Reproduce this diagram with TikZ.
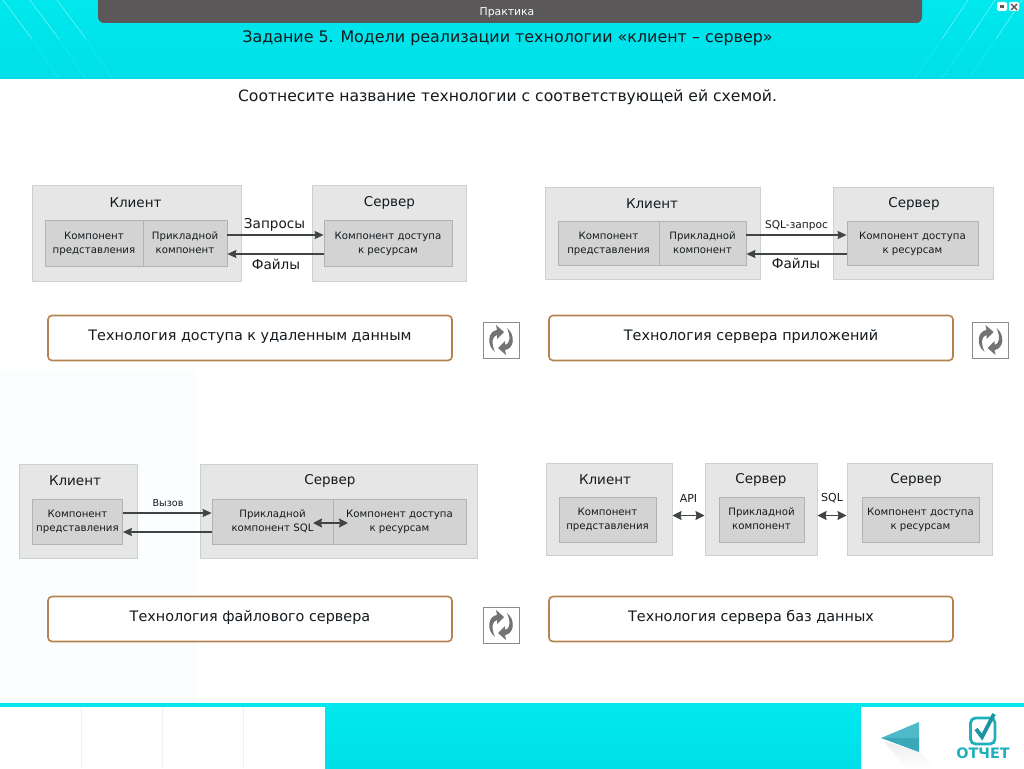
\documentclass[tikz,border=0pt]{standalone}
\usepackage{fontspec}
\setmainfont{DejaVu Sans}
\usetikzlibrary{arrows.meta,positioning,calc}
\definecolor{techCyan}{HTML}{00E8EE}
\definecolor{techCyanLow}{HTML}{00DFE8}
\definecolor{techTint}{HTML}{FBFEFF}
\definecolor{techBar}{HTML}{5A5858}
\definecolor{techOuter}{HTML}{E6E6E6}
\definecolor{techOuterEdge}{HTML}{CDD0D0}
\definecolor{techInner}{HTML}{D3D3D3}
\definecolor{techInnerEdge}{HTML}{B0B3B3}
\definecolor{techLine}{HTML}{404444}
\definecolor{techCard}{HTML}{B5834F}
\definecolor{techText}{HTML}{141A1E}
\definecolor{techTeal}{HTML}{1FB0BC}
\definecolor{techBack}{HTML}{4FB9C9}
\definecolor{techBackLow}{HTML}{3AA8B8}
\tikzset{
  outerbox/.style={draw=techOuterEdge,line width=1pt,fill=techOuter,inner sep=0pt,minimum height=#1},
  outerbox/.default=96pt,
  innerbox/.style={draw=techInnerEdge,line width=0.8pt,fill=techInner,inner sep=0pt,align=center,
              text=techText,font=\fontsize{10.2}{14}\selectfont,text height=22pt,text depth=2pt,
              minimum height=#1},
  innerbox/.default=46pt,
  boxtitle/.style={font=\fontsize{13.5}{16}\selectfont,text=techText,inner sep=0pt},
  flowlbl/.style={font=\fontsize{#1}{14}\selectfont,text=techText,inner sep=0pt},
  flowlbl/.default=10.5,
  flow/.style={-{Stealth[length=9pt,width=8pt,inset=1pt]},draw=techLine,line width=1.3pt},
  twoflow/.style={{Stealth[length=9pt,width=9pt,inset=1pt]}-{Stealth[length=9pt,width=9pt,inset=1pt]},
              draw=techLine,line width=1.6pt},
  cardbox/.style={draw=techCard,line width=1.6pt,fill=white,rounded corners=4pt,minimum width=404pt,
              minimum height=45pt,inner sep=0pt,text height=12pt,text depth=8pt,text=techText,
              font=\fontsize{14.4}{16}\selectfont},
  iconbox/.style={draw=black!45,line width=0.8pt,fill=white,minimum size=36pt,inner sep=0pt},
  refresh/.pic={
    \foreach \a in {0,180}
      \fill[black!55,rotate=\a] (-6,12) .. controls (-15,5) and (-13,-9) .. (-4,-10) -- (-5,-15)
        -- (3,-8) -- (-4,-1) -- (-4,-5) .. controls (-9,-4) and (-10,3) .. cycle;
  },
}
\begin{document}
\begin{tikzpicture}[x=1pt,y=-1pt]
  \useasboundingbox (0,0) rectangle (1024,768);
  \fill[white] (0,0) rectangle (1024,768);
  \fill[techTint] (0,370) rectangle (197,703);

  % Head of the page.
  \shade[top color=techCyan,bottom color=techCyanLow] (0,0) rectangle (1024,78);
  \foreach \p in {0,27,54} {
    \draw[white,opacity=0.35,line width=0.8pt] (3+\p,0) -- (32+\p,39);
    \draw[white,opacity=0.1,line width=0.8pt] (32+\p,39) -- (58+\p,78);
    \draw[white,opacity=0.35,line width=0.8pt] (968+\p,0) -- (942+\p,39);
    \draw[white,opacity=0.1,line width=0.8pt] (942+\p,39) -- (915+\p,78);
  }
  \fill[techBar] (98,0) -- (922,0) -- (922,17) arc[start angle=0,end angle=90,radius=6] -- (104,23)
    arc[start angle=90,end angle=180,radius=6] -- cycle;
  \node[font=\fontsize{10.8}{12}\selectfont,text=white,inner sep=0pt] (barname) at (507,12.5) {Практика};
  \node[font=\fontsize{15.9}{18}\selectfont,text=techText,inner sep=0pt] (taskname) at (507.5,38.5)
    {Задание 5. Модели реализации технологии «клиент – сервер»};
  \node[font=\fontsize{15.6}{18}\selectfont,text=techText,inner sep=0pt] (tasktext) at (507.5,97)
    {Соотнесите название технологии с соответствующей ей схемой.};
  \fill[white,rounded corners=2pt] (997,2) rectangle (1007,11);
  \fill[techBar] (1000,5) rectangle (1004,8);
  \fill[white,rounded corners=2pt] (1009,2) rectangle (1019,11);
  \draw[techBar,line width=1.4pt] (1011,4) -- (1017,10) (1017,4) -- (1011,10);

  % Remote data access.
  \node[outerbox,minimum width=209pt] (cliA) at (136.5,233) {};
  \node[outerbox,minimum width=154pt] (srvA) at (389,233) {};
  \node[boxtitle] (cliAname) at (135.5,202.5) {Клиент};
  \node[boxtitle] (srvAname) at (389.5,202.5) {Сервер};
  \node[innerbox,minimum width=98pt] (preA) at (94,243) {Компонент\\представления};
  \node[innerbox,minimum width=84pt] (appA) at (185,243) {Прикладной\\компонент};
  \node[innerbox,minimum width=128pt] (resA) at (388,243) {Компонент доступа\\к ресурсам};
  \draw[flow] ([yshift=8pt]appA.east) -- ([yshift=8pt]resA.west);
  \draw[flow] ([yshift=-11pt]resA.west) -- ([yshift=-11pt]appA.east);
  \node[flowlbl=13.6] (reqA) at (274.5,225) {Запросы};
  \node[flowlbl=13.6] (retA) at (276,264.5) {Файлы};
  \node[cardbox] (cardA) at (250,338) {Технология доступа к удаленным данным};
  \node[iconbox] (iconA) at (501,340) {};
  \pic at (iconA) {refresh};

  % Application server.
  \node[outerbox=92pt,minimum width=215pt] (cliB) at (652.5,233) {};
  \node[outerbox=92pt,minimum width=160pt] (srvB) at (913,233) {};
  \node[boxtitle] (cliBname) at (652,204) {Клиент};
  \node[boxtitle] (srvBname) at (914,204) {Сервер};
  \node[innerbox=44pt,minimum width=101pt] (preB) at (608.5,243) {Компонент\\представления};
  \node[innerbox=44pt,minimum width=87pt] (appB) at (702.5,243) {Прикладной\\компонент};
  \node[innerbox=44pt,minimum width=131pt] (resB) at (912.5,243) {Компонент доступа\\к ресурсам};
  \draw[flow] ([yshift=8pt]appB.east) -- ([yshift=8pt]resB.west);
  \draw[flow] ([yshift=-11pt]resB.west) -- ([yshift=-11pt]appB.east);
  \node[flowlbl=10.6] (reqB) at (796.5,226) {SQL-запрос};
  \node[flowlbl=13.6] (retB) at (796,263.5) {Файлы};
  \node[cardbox] (cardB) at (751,338) {Технология сервера приложений};
  \node[iconbox] (iconB) at (990.5,340) {};
  \pic at (iconB) {refresh};

  % File server.
  \node[outerbox=94pt,minimum width=118pt] (cliC) at (78.5,511) {};
  \node[outerbox=94pt,minimum width=277pt] (srvC) at (338.5,511) {};
  \node[boxtitle] (cliCname) at (75,481) {Клиент};
  \node[boxtitle] (srvCname) at (330,481) {Сервер};
  \node[innerbox=45pt,minimum width=90pt] (preC) at (77.5,521.5) {Компонент\\представления};
  \node[innerbox=45pt,minimum width=121pt] (appC) at (272.5,521.5) {Прикладной\\компонент SQL};
  \node[innerbox=45pt,minimum width=133pt] (resC) at (399.5,521.5) {Компонент доступа\\к ресурсам};
  \draw[flow] ([yshift=8.5pt]preC.east) -- ([yshift=8.5pt]appC.west);
  \draw[flow] ([yshift=-10.5pt]appC.west) -- ([yshift=-10.5pt]preC.east);
  \coordinate (sqlC) at (313,523);
  \coordinate (dbC) at (348,523);
  \draw[twoflow] (sqlC) -- (dbC);
  \node[flowlbl=9.6] (reqC) at (168,503.5) {Вызов};
  \node[cardbox] (cardC) at (250,619) {Технология файлового сервера};
  \node[iconbox] (iconC) at (501,625) {};
  \pic at (iconC) {refresh};

  % Database server.
  \node[outerbox=92pt,minimum width=126pt] (cliD) at (609,509) {};
  \node[outerbox=92pt,minimum width=112pt] (appD) at (761,509) {};
  \node[outerbox=92pt,minimum width=145pt] (srvD) at (919.5,509) {};
  \node[boxtitle] (cliDname) at (605,480) {Клиент};
  \node[boxtitle] (appDname) at (761,480) {Сервер};
  \node[boxtitle] (srvDname) at (916,480) {Сервер};
  \node[innerbox=45pt,minimum width=97pt] (preD) at (607.5,519.5) {Компонент\\представления};
  \node[innerbox=45pt,minimum width=85pt] (midD) at (761.5,519.5) {Прикладной\\компонент};
  \node[innerbox=45pt,minimum width=117pt] (resD) at (920.5,519.5) {Компонент доступа\\к ресурсам};
  \draw[twoflow] ([yshift=-6.5pt]cliD.east) -- ([yshift=-6.5pt]appD.west);
  \draw[twoflow] ([yshift=-6.5pt]appD.east) -- ([yshift=-6.5pt]srvD.west);
  \node[flowlbl=11] (apiD) at (688.5,498) {API};
  \node[flowlbl=11] (sqlD) at (832,498) {SQL};
  \node[cardbox] (cardD) at (751,619) {Технология сервера баз данных};

  % Foot of the page.
  \fill[techCyan] (0,703) rectangle (1024,707);
  \shade[top color=techCyan,bottom color=techCyanLow] (325,707) rectangle (861,768);
  \foreach \p in {81,162,243}
    \draw[black!6,line width=0.6pt] (\p,707) -- (\p,768);
  \shade[top color=black!7,bottom color=white] (884,741) -- (919,752) -- (935,768) -- (905,768) -- cycle;
  \fill[techBack] (881,738) -- (919,722) -- (919,738) -- cycle;
  \fill[techBackLow] (881,738) -- (919,738) -- (919,752) -- cycle;
  \draw[techTeal,line width=2.8pt,rounded corners=5pt,fill=white] (970.5,718) rectangle (995,744);
  \draw[techTeal!85!black,line width=3.8pt] (976,729) -- (982,737) -- (994,714);
  \node[font=\bfseries\fontsize{14.4}{15}\selectfont,text=techTeal,inner sep=0pt] (repname) at (983,753) {ОТЧЕТ};
\end{tikzpicture}
\end{document}
